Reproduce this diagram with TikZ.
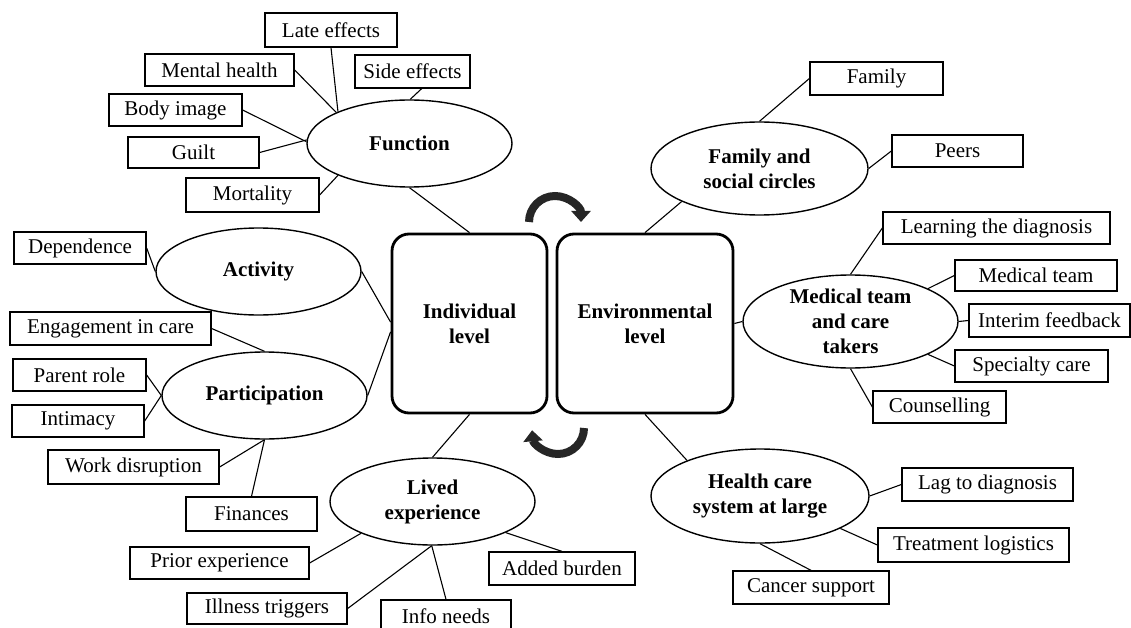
\documentclass[tikz,border=0pt]{standalone}
\usepackage{fontspec}
\setmainfont{Liberation Serif}
\usetikzlibrary{shapes.geometric,arrows.meta}
\begin{document}
\begin{tikzpicture}[x=1pt,y=-1pt,
  font=\fontsize{21}{25}\selectfont,
  bx/.style={draw, line width=1.3pt, inner sep=0pt, minimum height=33},
  el/.style={draw, ellipse, line width=1.4pt, inner sep=0pt},
  ellab/.style={align=center, font=\fontsize{21}{25}\selectfont\bfseries, inner sep=0pt},
  lvl/.style={draw, rounded corners=17, line width=2.8pt, inner sep=0pt, align=center, font=\fontsize{21}{25}\selectfont\bfseries},
  cn/.style={line width=1.1pt},
  cyc/.style={line width=8pt, draw=black!85, -{Triangle[length=11pt,width=19pt,fill=black!85]}}
]
\useasboundingbox (0,0) rectangle (1131,628);

% central level boxes
\node[lvl, minimum width=155, minimum height=179] (I) at (469.5,323.5) {Individual\\level};
\node[lvl, minimum width=176, minimum height=179] (E) at (645,323.5) {Environmental\\level};

% ellipses
\node[el, minimum width=205, minimum height=87, label={[ellab]center:Function}] (F) at (409.5,143.5) {};
\node[el, minimum width=205, minimum height=87, label={[ellab]center:Activity}] (A) at (258.5,271.5) {};
\node[el, minimum width=205, minimum height=87, label={[ellab]center:Participation}] (P) at (264.5,395.5) {};
\node[el, minimum width=205, minimum height=87, label={[ellab]center:Lived\\experience}] (L) at (432.5,501.5) {};
\node[el, minimum width=217, minimum height=93, label={[ellab]center:Family and\\social circles}] (FS) at (759.5,168.5) {};
\node[el, minimum width=215, minimum height=93, label={[ellab]center:Medical team\\and care\\takers}] (MT) at (850.5,321.5) {};
\node[el, minimum width=218, minimum height=94, label={[ellab]center:Health care\\system at large}] (HC) at (760,496) {};

% boxes
\node[bx, minimum width=132, minimum height=34] (LE) at (331,30) {Late effects};
\node[bx, minimum width=149, minimum height=32] (MH) at (219.5,70) {Mental health};
\node[bx, minimum width=115, minimum height=33] (SE) at (412.5,71.5) {Side effects};
\node[bx, minimum width=133, minimum height=32] (BI) at (175.5,110) {Body image};
\node[bx, minimum width=131, minimum height=31] (GU) at (193.5,152.5) {Guilt};
\node[bx, minimum width=133, minimum height=34] (MO) at (252.5,195) {Mortality};
\node[bx, minimum width=132, minimum height=32] (DE) at (80,248) {Dependence};
\node[bx, minimum width=201, minimum height=33] (EC) at (110.5,328.5) {Engagement in care};
\node[bx, minimum width=133, minimum height=32] (PR) at (79.5,375) {Parent role};
\node[bx, minimum width=132, minimum height=32] (IM) at (78,421) {Intimacy};
\node[bx, minimum width=171, minimum height=34] (WD) at (133.5,467) {Work disruption};
\node[bx, minimum width=131, minimum height=34] (FI) at (251.5,514) {Finances};
\node[bx, minimum width=179, minimum height=32] (PE) at (219.5,563) {Prior experience};
\node[bx, minimum width=160, minimum height=31] (IT) at (267,608.5) {Illness triggers};
\node[bx, minimum width=130, minimum height=32] (IN) at (446,616) {Info needs};
\node[bx, minimum width=146, minimum height=33] (AB) at (562,568.5) {Added burden};
\node[bx, minimum width=133, minimum height=33] (FA) at (876.5,78.5) {Family};
\node[bx, minimum width=131, minimum height=32] (PS) at (957.5,151) {Peers};
\node[bx, minimum width=227, minimum height=32] (LD) at (996.5,228) {Learning the diagnosis};
\node[bx, minimum width=162, minimum height=31] (MB) at (1036,275.5) {Medical team};
\node[bx, minimum width=161, minimum height=33] (IF) at (1049.5,320.5) {Interim feedback};
\node[bx, minimum width=153, minimum height=32] (SC) at (1031.5,366) {Specialty care};
\node[bx, minimum width=133, minimum height=32] (CO) at (939.5,407) {Counselling};
\node[bx, minimum width=171, minimum height=33] (LG) at (987.5,484.5) {Lag to diagnosis};
\node[bx, minimum width=191, minimum height=34] (TL) at (973.5,545) {Treatment logistics};
\node[bx, minimum width=156, minimum height=33] (CS) at (811,587.5) {Cancer support};

% connectors
\draw[cn] (LE.south) -- (F.156);
\draw[cn] (MH.east) -- (F.157);
\draw[cn] (SE.-62) -- (F.89);
\draw[cn] (BI.east) -- (F.179);
\draw[cn] (GU.east) -- (F.178);
\draw[cn] (MO.east) -- (F.204);
\draw[cn] (F.-90) -- (I.north);
\draw[cn] (DE.east) -- (A.west);
\draw[cn] (A.east) -- (I.179);
\draw[cn] (EC.east) -- (P.north);
\draw[cn] (PR.east) -- (P.west);
\draw[cn] (IM.east) -- (P.west);
\draw[cn] (WD.east) -- (P.south);
\draw[cn] (FI.north) -- (P.south);
\draw[cn] (P.east) -- (I.186);
\draw[cn] (I.south) -- (L.north);
\draw[cn] (PE.east) -- (L.204);
\draw[cn] (IT.east) -- (L.-91);
\draw[cn] (IN.north) -- (L.-91);
\draw[cn] (AB.north) -- (L.-23);
\draw[cn] (E.north) -- (FS.203);
\draw[cn] (FA.west) -- (FS.north);
\draw[cn] (PS.west) -- (FS.east);
\draw[cn] (E.east) -- (MT.west);
\draw[cn] (LD.west) -- (MT.north);
\draw[cn] (MB.west) -- (MT.23);
\draw[cn] (IF.west) -- (MT.east);
\draw[cn] (SC.west) -- (MT.-23);
\draw[cn] (CO.west) -- (MT.south);
\draw[cn] (E.south) -- (HC.154);
\draw[cn] (LG.west) -- (HC.east);
\draw[cn] (TL.west) -- (HC.-22);
\draw[cn] (CS.north) -- (HC.south);

% cycle arrows
\draw[cyc] (529,222) arc[start angle=180, end angle=360, radius=26];
\draw[cyc] (584,428) arc[start angle=0, end angle=175, radius=26];
\end{tikzpicture}
\end{document}
